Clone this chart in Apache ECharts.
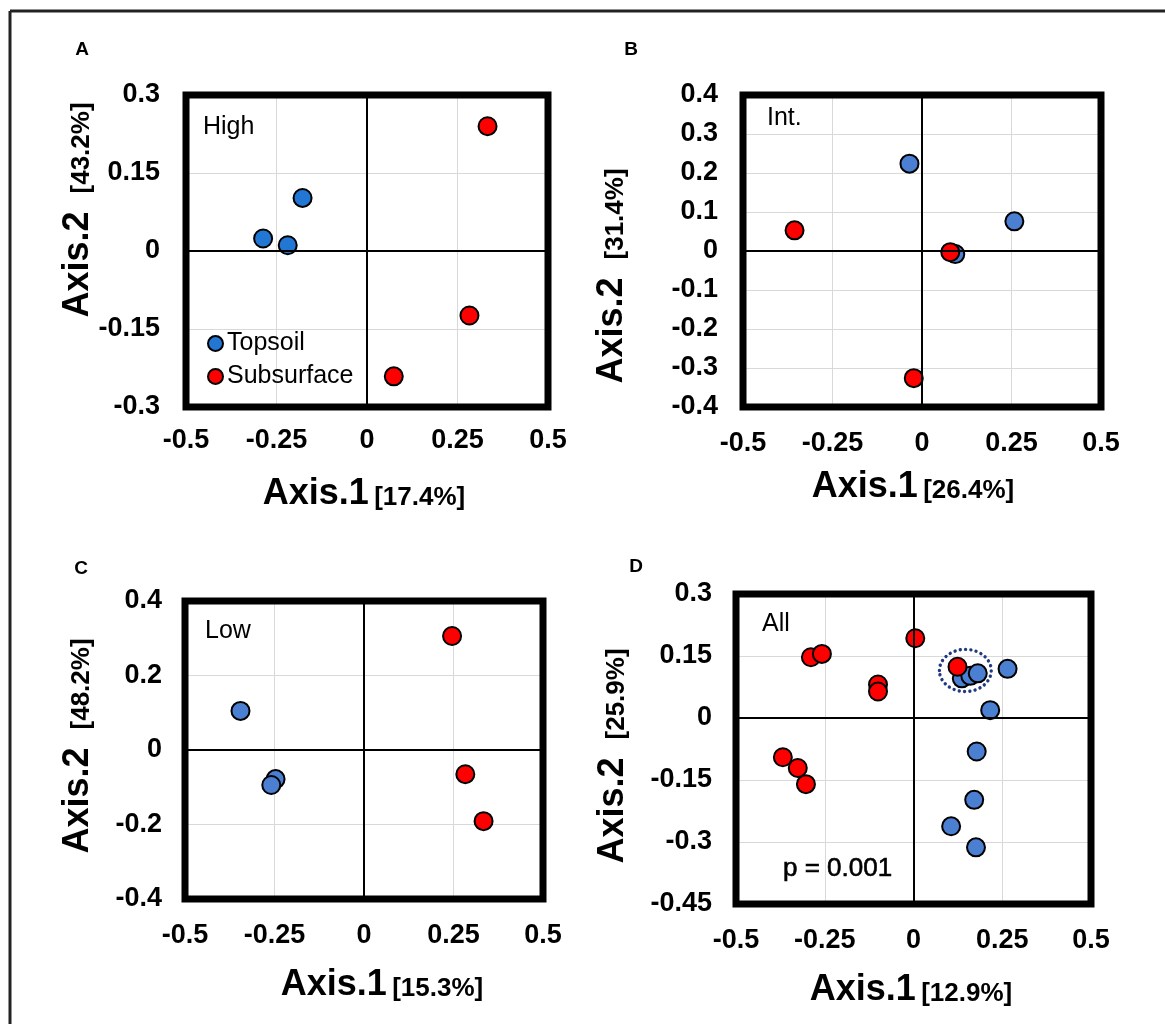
<!DOCTYPE html>
<html>
<head>
<meta charset="utf-8">
<script src="https://cdn.jsdelivr.net/npm/echarts@6/dist/echarts.min.js"></script>
<style>
html,body{margin:0;padding:0;background:#fff;}
#chart{width:1165px;height:1024px;}
</style>
</head>
<body>
<div id="chart"></div>
<script>
// ---------- data ----------
const xTicks = [-0.5, -0.25, 0, 0.25, 0.5];
const highTopsoil = [[-0.178, 0.102], [-0.287, 0.024], [-0.219, 0.011]];
const highSubsurface = [[0.333, 0.240], [0.283, -0.124], [0.074, -0.241]];
const intTopsoil = [[-0.035, 0.224], [0.258, 0.076], [0.093, -0.008]];
const intSubsurface = [[-0.356, 0.053], [0.079, -0.003], [-0.023, -0.326]];
const lowTopsoil = [[-0.345, 0.105], [-0.247, -0.078], [-0.259, -0.094]];
const lowSubsurface = [[0.246, 0.306], [0.283, -0.065], [0.334, -0.191]];
const allTopsoil = [[0.136, 0.096], [0.160, 0.102], [0.181, 0.108], [0.265, 0.119], [0.216, 0.019],
  [0.178, -0.081], [0.171, -0.198], [0.106, -0.262], [0.176, -0.313]];
const allSubsurface = [[0.005, 0.193], [-0.289, 0.147], [-0.258, 0.155], [-0.100, 0.081], [-0.100, 0.064],
  [-0.368, -0.095], [-0.326, -0.121], [-0.303, -0.160], [0.124, 0.124]];
const clusterEllipse = [[0.146, 0.115, 0.073, 0.051]]; // centre x, centre y, radius x, radius y (data units)
const yRanges = [[-0.3, 0.3, 0.15], [-0.4, 0.4, 0.1], [-0.4, 0.4, 0.2], [-0.45, 0.3, 0.15]];
const panelLetters = ['A', 'B', 'C', 'D'];
const panelNames = ['High', 'Int.', 'Low', 'All'];
const axis1Pct = ['[17.4%]', '[26.4%]', '[15.3%]', '[12.9%]'];
const axis2Pct = ['[43.2%]', '[31.4%]', '[48.2%]', '[25.9%]'];
const pValue = 'p = 0.001';

// ---------- layout ----------
const FONT = '"Liberation Sans", Arial, sans-serif';
const grids = [
  {left: 186, top: 95, width: 362, height: 312},
  {left: 743, top: 95, width: 358, height: 312},
  {left: 185, top: 601, width: 358, height: 298},
  {left: 736, top: 594, width: 355, height: 310}
];
const yLabelMargin = [26, 25, 23, 24];
const xLabelMargin = [20, 23, 23, 23];
const xTitlePos = [[364, 494], [913, 487], [382, 985], [911, 990]];
const yTitlePos = [[78, 210], [612, 276], [78, 746], [613, 756]];
const letterPos = [[82, 50], [631, 50], [81, 569], [636, 567]];
const namePos = [[203, 127], [767, 118], [205, 631], [762, 624]];

const blueA = '#2277d4', blue = '#4a7fd2', red = '#ff0000';
const topsoilSets = [highTopsoil, intTopsoil, lowTopsoil, allTopsoil];
const subsurfaceSets = [highSubsurface, intSubsurface, lowSubsurface, allSubsurface];

const xAxes = [], yAxes = [], series = [], graphics = [];
for (let i = 0; i < 4; i++) {
  xAxes.push({
    type: 'value', gridIndex: i, min: xTicks[0], max: xTicks[xTicks.length - 1], interval: 0.25,
    axisLine: {show: false}, axisTick: {show: false},
    splitLine: {show: true, lineStyle: {color: '#d9d9d9', width: 1}},
    axisLabel: {fontSize: 27, fontWeight: 'bold', color: '#000', fontFamily: FONT, margin: xLabelMargin[i]}
  });
  yAxes.push({
    type: 'value', gridIndex: i, min: yRanges[i][0], max: yRanges[i][1], interval: yRanges[i][2],
    axisLine: {show: false}, axisTick: {show: false},
    splitLine: {show: true, lineStyle: {color: '#d9d9d9', width: 1}},
    axisLabel: {fontSize: 27, fontWeight: 'bold', color: '#000', fontFamily: FONT, margin: yLabelMargin[i]}
  });
  // zero lines
  series.push({
    type: 'scatter', xAxisIndex: i, yAxisIndex: i, data: [], z: 1, silent: true,
    markLine: {
      silent: true, symbol: ['none', 'none'], label: {show: false}, animation: false,
      lineStyle: {color: '#000', width: 2, type: 'solid'},
      emphasis: {disabled: true},
      data: [{xAxis: 0}, {yAxis: 0}]
    }
  });
  series.push({
    name: 'Topsoil', type: 'scatter', xAxisIndex: i, yAxisIndex: i, data: topsoilSets[i],
    symbolSize: 18, z: 3,
    itemStyle: {color: i === 0 ? blueA : blue, borderColor: '#000', borderWidth: 2, opacity: 1}
  });
  series.push({
    name: 'Subsurface', type: 'scatter', xAxisIndex: i, yAxisIndex: i, data: subsurfaceSets[i],
    symbolSize: 18, z: 4,
    itemStyle: {color: red, borderColor: '#000', borderWidth: 2, opacity: 1}
  });
  const g = grids[i];
  graphics.push({
    type: 'rect', z: 100, silent: true,
    shape: {x: g.left, y: g.top, width: g.width, height: g.height},
    style: {fill: 'none', stroke: '#000', lineWidth: 7}
  });
  graphics.push({
    type: 'text', z: 100, x: xTitlePos[i][0], y: xTitlePos[i][1],
    style: {
      text: '{a|Axis.1} {b|' + axis1Pct[i] + '}', align: 'center', verticalAlign: 'middle',
      rich: {
        a: {fontSize: 36, fontWeight: 'bold', fontFamily: FONT, fill: '#000', lineHeight: 36, verticalAlign: 'bottom'},
        b: {fontSize: 26, fontWeight: 'bold', fontFamily: FONT, fill: '#000', lineHeight: 26, verticalAlign: 'bottom', padding: [0, 0, 1, 2]}
      }
    }
  });
  graphics.push({
    type: 'text', z: 100, x: yTitlePos[i][0], y: yTitlePos[i][1], rotation: Math.PI / 2,
    style: {
      text: '{a|Axis.2}{b|' + axis2Pct[i] + '}', align: 'center', verticalAlign: 'middle',
      rich: {
        a: {fontSize: 36, fontWeight: 'bold', fontFamily: FONT, fill: '#000', lineHeight: 36, verticalAlign: 'bottom'},
        b: {fontSize: 26, fontWeight: 'bold', fontFamily: FONT, fill: '#000', lineHeight: 26, verticalAlign: 'bottom', padding: [0, 0, 1, 18]}
      }
    }
  });
  graphics.push({
    type: 'text', z: 100, x: letterPos[i][0], y: letterPos[i][1],
    style: {text: panelLetters[i], align: 'center', verticalAlign: 'middle',
      font: 'bold 19px ' + FONT, fill: '#000'}
  });
  graphics.push({
    type: 'text', z: 100, x: namePos[i][0], y: namePos[i][1],
    style: {text: panelNames[i], align: 'left', verticalAlign: 'middle',
      font: '25px ' + FONT, fill: '#000'}
  });
}
// p value in panel D
graphics.push({
  type: 'text', z: 100, x: 783, y: 869,
  style: {text: pValue, align: 'left', verticalAlign: 'middle', font: '26px ' + FONT, fill: '#000',
    stroke: '#000', lineWidth: 0.6}
});
// outer frame (top and left edges)
graphics.push({type: 'line', z: 100, shape: {x1: 10, y1: 11, x2: 1165, y2: 11}, style: {stroke: '#222', lineWidth: 3}});
graphics.push({type: 'line', z: 100, shape: {x1: 10, y1: 11, x2: 10, y2: 1024}, style: {stroke: '#222', lineWidth: 3}});

// dotted ellipse around cluster in panel D
series.push({
  type: 'custom', xAxisIndex: 3, yAxisIndex: 3, data: clusterEllipse, z: 5, silent: true,
  renderItem: function (params, api) {
    const c = api.coord([api.value(0), api.value(1)]);
    const s = api.size([api.value(2), api.value(3)]);
    return {
      type: 'ellipse',
      shape: {cx: c[0], cy: c[1], rx: s[0], ry: s[1]},
      style: {fill: 'none', stroke: '#1f3a80', lineWidth: 3.4, lineDash: [0.01, 5.3], lineCap: 'round'}
    };
  }
});

const chart = echarts.init(document.getElementById('chart'), null, {renderer: 'canvas'});
chart.setOption({
  animation: false,
  backgroundColor: '#fff',
  grid: grids.map(g => Object.assign({containLabel: false, show: false}, g)),
  xAxis: xAxes,
  yAxis: yAxes,
  legend: {
    data: ['Topsoil', 'Subsurface'], orient: 'vertical', left: 207, top: 331,
    icon: 'circle', itemWidth: 15, itemHeight: 15, itemGap: 8, padding: 0,
    textStyle: {fontSize: 25, color: '#000', fontFamily: FONT, padding: [0, 0, 0, -1]},
    selectedMode: false
  },
  series: series,
  graphic: graphics
});
</script>
</body>
</html>
